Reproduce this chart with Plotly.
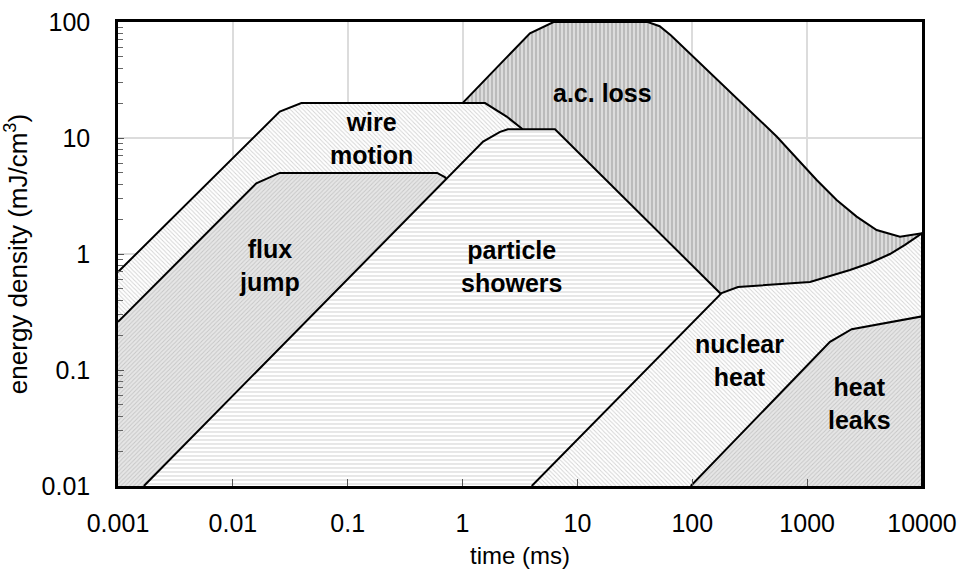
import plotly.graph_objects as go

# Disturbance spectrum regions (time in ms, energy density in mJ/cm^3).
# Each region is a closed outline; regions are stacked back-to-front.
# Closing points at 0.008 sit just below the axis floor so their edges are clipped.
ac_loss_t = [1, 1, 3.86, 6.2, 41, 52, 65, 543, 1211, 1806, 2698, 4027, 6430, 10000, 10000]
ac_loss_e = [0.008, 20, 80, 100, 100, 92, 77, 10.3, 4.35, 2.92, 2.1, 1.61, 1.41, 1.51, 0.008]

wire_motion_t = [0.001, 0.0256, 0.0395, 1.57, 2.42, 3.27, 4.5, 4.5, 0.001]
wire_motion_e = [0.70, 16.9, 20, 20, 15.3, 12.1, 8, 0.008, 0.008]

flux_jump_t = [0.001, 0.016, 0.0256, 0.60, 0.70, 1.0, 1.0, 0.001]
flux_jump_e = [0.26, 4.07, 5, 5, 4.6, 3.0, 0.008, 0.008]

particle_t = [0.00168, 1.51, 2.12, 2.48, 6.38, 180, 300, 300]
particle_e = [0.01, 9.3, 11.3, 11.9, 11.9, 0.45, 0.27, 0.008]

nuclear_t = [4.0, 180, 250, 581, 1059, 2362, 3524, 5260, 7110, 10000, 10000]
nuclear_e = [0.01, 0.46, 0.52, 0.55, 0.574, 0.728, 0.836, 1.0, 1.2, 1.51, 0.008]

heat_leak_t = [97, 1581, 2442, 10000, 10000]
heat_leak_e = [0.01, 0.175, 0.225, 0.29, 0.008]

x_ticks = [0.001, 0.01, 0.1, 1, 10, 100, 1000, 10000]
x_tick_text = ["0.001", "0.01", "0.1", "1", "10", "100", "1000", "10000"]
y_ticks = [0.01, 0.1, 1, 10, 100]
y_tick_text = ["0.01", "0.1", "1", "10", "100"]

FONT = "Liberation Sans, Arial, Helvetica, sans-serif"

# name, x, y, hatch shape, hatch colour, background colour, hatch size
regions = [
    ("a.c. loss", ac_loss_t, ac_loss_e, "|", "#6c6c6c", "#dcdcdc", 4),
    ("wire motion", wire_motion_t, wire_motion_e, "\\", "#a6a6a6", "#ffffff", 3),
    ("flux jump", flux_jump_t, flux_jump_e, "/", "#a4a4a4", "#e6e6e6", 3),
    ("particle showers", particle_t, particle_e, "-", "#b0b0b0", "#ffffff", 4),
    ("nuclear heat", nuclear_t, nuclear_e, "\\", "#a6a6a6", "#ffffff", 3),
    ("heat leaks", heat_leak_t, heat_leak_e, "/", "#a4a4a4", "#e6e6e6", 3),
]

fig = go.Figure()
for name, xs, ys, shape, fg, bg, size in regions:
    fig.add_trace(go.Scatter(
        x=xs, y=ys, name=name, mode="lines", fill="toself",
        fillcolor=bg,
        fillpattern=dict(shape=shape, fgcolor=fg, bgcolor=bg, size=size, solidity=0.3),
        line=dict(color="black", width=2),
        hoverinfo="name",
    ))

# Region labels (positions given in log10 units for the log axes)
labels = [
    ("wire<br>motion", -0.789, 0.996),
    ("flux<br>jump", -1.677, -0.103),
    ("particle<br>showers", 0.422, -0.112),
    ("a.c. loss", 1.214, 1.388),
    ("nuclear<br>heat", 2.415, -0.914),
    ("heat<br>leaks", 3.460, -1.293),
]
for text, lx, ly in labels:
    fig.add_annotation(x=lx, y=ly, xref="x", yref="y", text="<b>%s</b>" % text,
                       showarrow=False, font=dict(family=FONT, size=25, color="black"))

fig.update_layout(
    width=960, height=573,
    margin=dict(l=118, r=38, t=22, b=87),
    paper_bgcolor="white", plot_bgcolor="white",
    showlegend=False,
    font=dict(family=FONT, size=24, color="black"),
    xaxis=dict(
        type="log", range=[-3, 4], tickmode="array", tickvals=x_ticks, ticktext=x_tick_text,
        showgrid=True, gridcolor="#dcdcdc", gridwidth=2,
        ticks="inside", ticklen=7, tickcolor="#555", tickwidth=1,
        showline=True, linecolor="black", linewidth=2.5, mirror=True,
        ticklabelstandoff=13, automargin=False,
        tickfont=dict(size=25),
        title=dict(text="time (ms)", font=dict(size=24), standoff=12),
        zeroline=False,
    ),
    yaxis=dict(
        type="log", range=[-2, 2], tickmode="array", tickvals=y_ticks, ticktext=y_tick_text,
        showgrid=True, gridcolor="#dcdcdc", gridwidth=2,
        ticks="inside", ticklen=6, tickcolor="#555", tickwidth=1,
        minor=dict(ticks="inside", ticklen=5, tickcolor="#666", dtick="D1", showgrid=False),
        showline=True, linecolor="black", linewidth=2.5, mirror=True,
        ticklabelstandoff=20, automargin=False,
        tickfont=dict(size=25),
        title=dict(text="energy density (mJ/cm<sup>3</sup>)", font=dict(size=26), standoff=12),
        zeroline=False,
    ),
)

fig.write_html("out.html")
